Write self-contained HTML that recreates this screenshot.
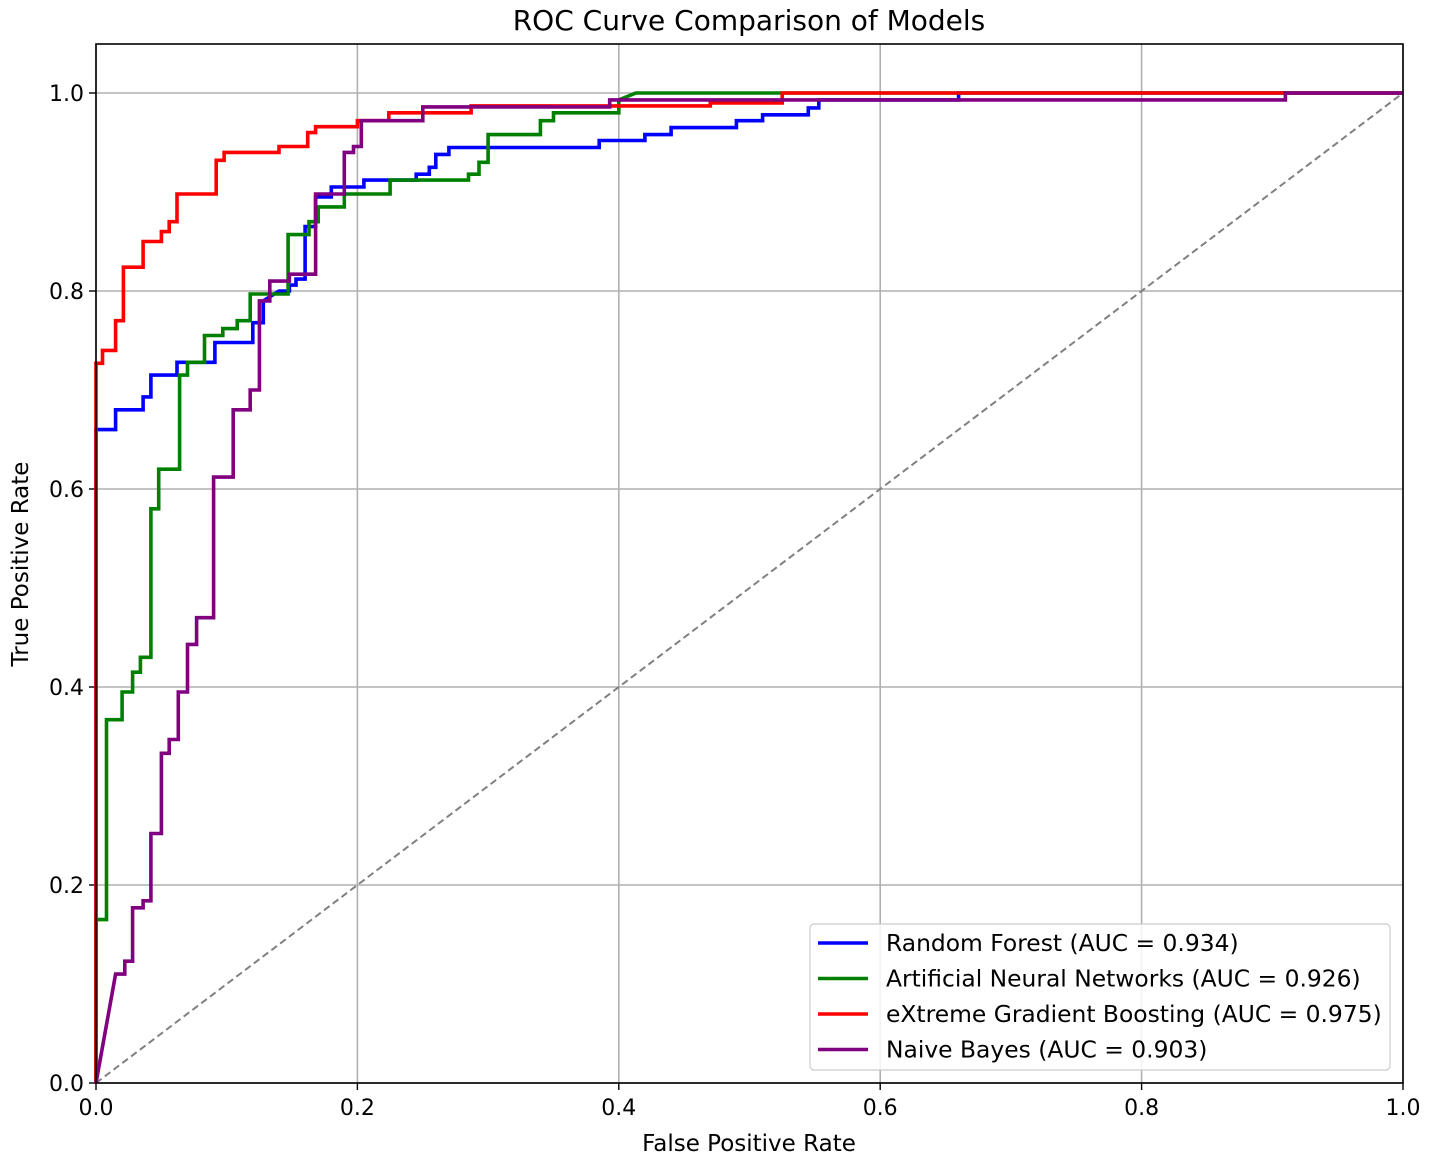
<!DOCTYPE html>
<html><head><meta charset="utf-8"><style>
html,body{margin:0;padding:0;background:#fff;}
svg{display:block;font-family:"DejaVu Sans","Liberation Sans",sans-serif;}
</style></head><body>
<svg id="chart" width="1429" height="1161" viewBox="0 0 1429 1161" xmlns="http://www.w3.org/2000/svg">
<rect width="1429" height="1161" fill="#fff"/>
<text x="749" y="30" font-size="28" text-anchor="middle" fill="#000">ROC Curve Comparison of Models</text>
<g id="grid"></g>
<g id="ticks"></g>
<g id="series"></g>
<rect x="96" y="44" width="1307" height="1039" fill="none" stroke="#000" stroke-width="1.6"/>
<text x="749" y="1151" font-size="23" text-anchor="middle">False Positive Rate</text>
<text transform="translate(28,564) rotate(-90)" font-size="23" text-anchor="middle">True Positive Rate</text>
<g>
<rect x="810" y="924" width="580" height="146" rx="4" fill="#fff" fill-opacity="0.85" stroke="#ccc" stroke-width="1.2"/>
<g id="legend-items"></g>
</g>
</svg>
<script>
const tickValues=[0,0.2,0.4,0.6,0.8,1.0];
const tickLabels=["0.0","0.2","0.4","0.6","0.8","1.0"];
const seriesNames=["Random Forest (AUC = 0.934)","Artificial Neural Networks (AUC = 0.926)","eXtreme Gradient Boosting (AUC = 0.975)","Naive Bayes (AUC = 0.903)"];
const seriesColors=["#0000ff","#008000","#ff0000","#800080"];
const rfFpr=[0,0,0.015,0.015,0.036,0.036,0.042,0.042,0.062,0.062,0.091,0.091,0.12,0.12,0.128,0.128,0.14,0.148,0.148,0.153,0.153,0.16,0.16,0.168,0.168,0.18,0.18,0.205,0.205,0.245,0.245,0.255,0.255,0.26,0.26,0.27,0.27,0.385,0.385,0.42,0.42,0.44,0.44,0.49,0.49,0.51,0.51,0.545,0.545,0.553,0.553,0.66,0.66,1];
const rfTpr=[0,0.66,0.66,0.68,0.68,0.693,0.693,0.715,0.715,0.728,0.728,0.748,0.748,0.768,0.768,0.79,0.8,0.8,0.806,0.806,0.812,0.812,0.865,0.865,0.895,0.895,0.905,0.905,0.912,0.912,0.918,0.918,0.925,0.925,0.938,0.938,0.945,0.945,0.952,0.952,0.958,0.958,0.965,0.965,0.972,0.972,0.978,0.978,0.985,0.985,0.993,0.993,1,1];
const annFpr=[0,0,0.008,0.008,0.02,0.02,0.028,0.028,0.034,0.034,0.042,0.042,0.048,0.048,0.064,0.064,0.07,0.07,0.083,0.083,0.097,0.097,0.108,0.108,0.118,0.118,0.147,0.147,0.163,0.163,0.17,0.17,0.19,0.19,0.225,0.225,0.285,0.285,0.293,0.293,0.3,0.3,0.34,0.34,0.35,0.35,0.4,0.4,0.413,1];
const annTpr=[0,0.165,0.165,0.367,0.367,0.395,0.395,0.415,0.415,0.43,0.43,0.58,0.58,0.62,0.62,0.715,0.715,0.728,0.728,0.755,0.755,0.762,0.762,0.77,0.77,0.797,0.797,0.857,0.857,0.87,0.87,0.885,0.885,0.898,0.898,0.912,0.912,0.918,0.918,0.93,0.93,0.958,0.958,0.972,0.972,0.98,0.98,0.993,1,1];
const xgbFpr=[0,0,0.005,0.005,0.015,0.015,0.021,0.021,0.036,0.036,0.05,0.05,0.056,0.056,0.062,0.062,0.092,0.092,0.098,0.098,0.14,0.14,0.162,0.162,0.168,0.168,0.2,0.2,0.224,0.224,0.287,0.287,0.47,0.47,0.525,0.525,1];
const xgbTpr=[0,0.727,0.727,0.74,0.74,0.77,0.77,0.824,0.824,0.85,0.85,0.86,0.86,0.87,0.87,0.898,0.898,0.932,0.932,0.94,0.94,0.946,0.946,0.96,0.96,0.966,0.966,0.972,0.972,0.98,0.98,0.987,0.987,0.99,0.99,1,1];
const nbFpr=[0,0.015,0.022,0.022,0.028,0.028,0.036,0.036,0.042,0.042,0.05,0.05,0.056,0.056,0.063,0.063,0.07,0.07,0.077,0.077,0.09,0.09,0.105,0.105,0.118,0.118,0.125,0.125,0.133,0.133,0.148,0.148,0.168,0.168,0.19,0.19,0.197,0.197,0.203,0.203,0.25,0.25,0.393,0.393,0.91,0.91,1];
const nbTpr=[0,0.11,0.11,0.123,0.123,0.177,0.177,0.184,0.184,0.252,0.252,0.333,0.333,0.347,0.347,0.395,0.395,0.443,0.443,0.47,0.47,0.612,0.612,0.68,0.68,0.7,0.7,0.79,0.79,0.81,0.81,0.817,0.817,0.898,0.898,0.94,0.94,0.946,0.946,0.972,0.972,0.986,0.986,0.993,0.993,1,1];
const seriesFpr=[rfFpr,annFpr,xgbFpr,nbFpr];
const seriesTpr=[rfTpr,annTpr,xgbTpr,nbTpr];
const seriesKeys=["random-forest","ann","xgboost","naive-bayes"];

const X0=96,X1=1403,Y0=1083,Y1=93;
const sx=v=>X0+v*(X1-X0);
const sy=v=>Y0-v*(Y0-Y1);
const NS="http://www.w3.org/2000/svg";
function mk(tag,attrs,parent){const e=document.createElementNS(NS,tag);for(const k in attrs)e.setAttribute(k,attrs[k]);parent.appendChild(e);return e;}
const grid=document.getElementById('grid'),ticks=document.getElementById('ticks'),series=document.getElementById('series'),leg=document.getElementById('legend-items');
tickValues.forEach((v,i)=>{
  const gx=mk('line',{x1:sx(v),x2:sx(v),y1:44,y2:Y0,stroke:'#b0b0b0','stroke-width':1.6},grid);
  
  
  const gy=mk('line',{x1:X0,x2:X1,y1:sy(v),y2:sy(v),stroke:'#b0b0b0','stroke-width':1.6},grid);
  
  
  mk('line',{x1:sx(v),x2:sx(v),y1:Y0,y2:Y0+7,stroke:'#000','stroke-width':1.4},ticks);
  mk('line',{x1:X0-7,x2:X0,y1:sy(v),y2:sy(v),stroke:'#000','stroke-width':1.4},ticks);
  const tx=mk('text',{x:sx(v),y:Y0+32,'font-size':22,'text-anchor':'middle'},ticks);
  tx.textContent=tickLabels[i];
  
  
  const ty=mk('text',{x:X0-12,y:sy(v)+8,'font-size':22,'text-anchor':'end'},ticks);
  ty.textContent=tickLabels[i];
  
  
});
const diag=mk('line',{x1:sx(0),y1:sy(0),x2:sx(1),y2:sy(1),stroke:'#808080','stroke-width':2,'stroke-dasharray':'7,4'},series);


seriesFpr.forEach((fx,i)=>{
  const ty=seriesTpr[i];
  const pts=fx.map((f,j)=>sx(f).toFixed(1)+','+sy(ty[j]).toFixed(1)).join(' ');
  const pl=mk('polyline',{points:pts,fill:'none',stroke:seriesColors[i],'stroke-width':3.6,'stroke-linejoin':'miter'},series);
  
  
  const yy=943+i*35.5;
  const ln=mk('line',{x1:818,x2:868,y1:yy,y2:yy,stroke:seriesColors[i],'stroke-width':3.6},leg);
  
  
  const t=mk('text',{x:886,y:yy+8,'font-size':23.4},leg);
  t.textContent=seriesNames[i];
  
  
});
</script>
</body></html>
